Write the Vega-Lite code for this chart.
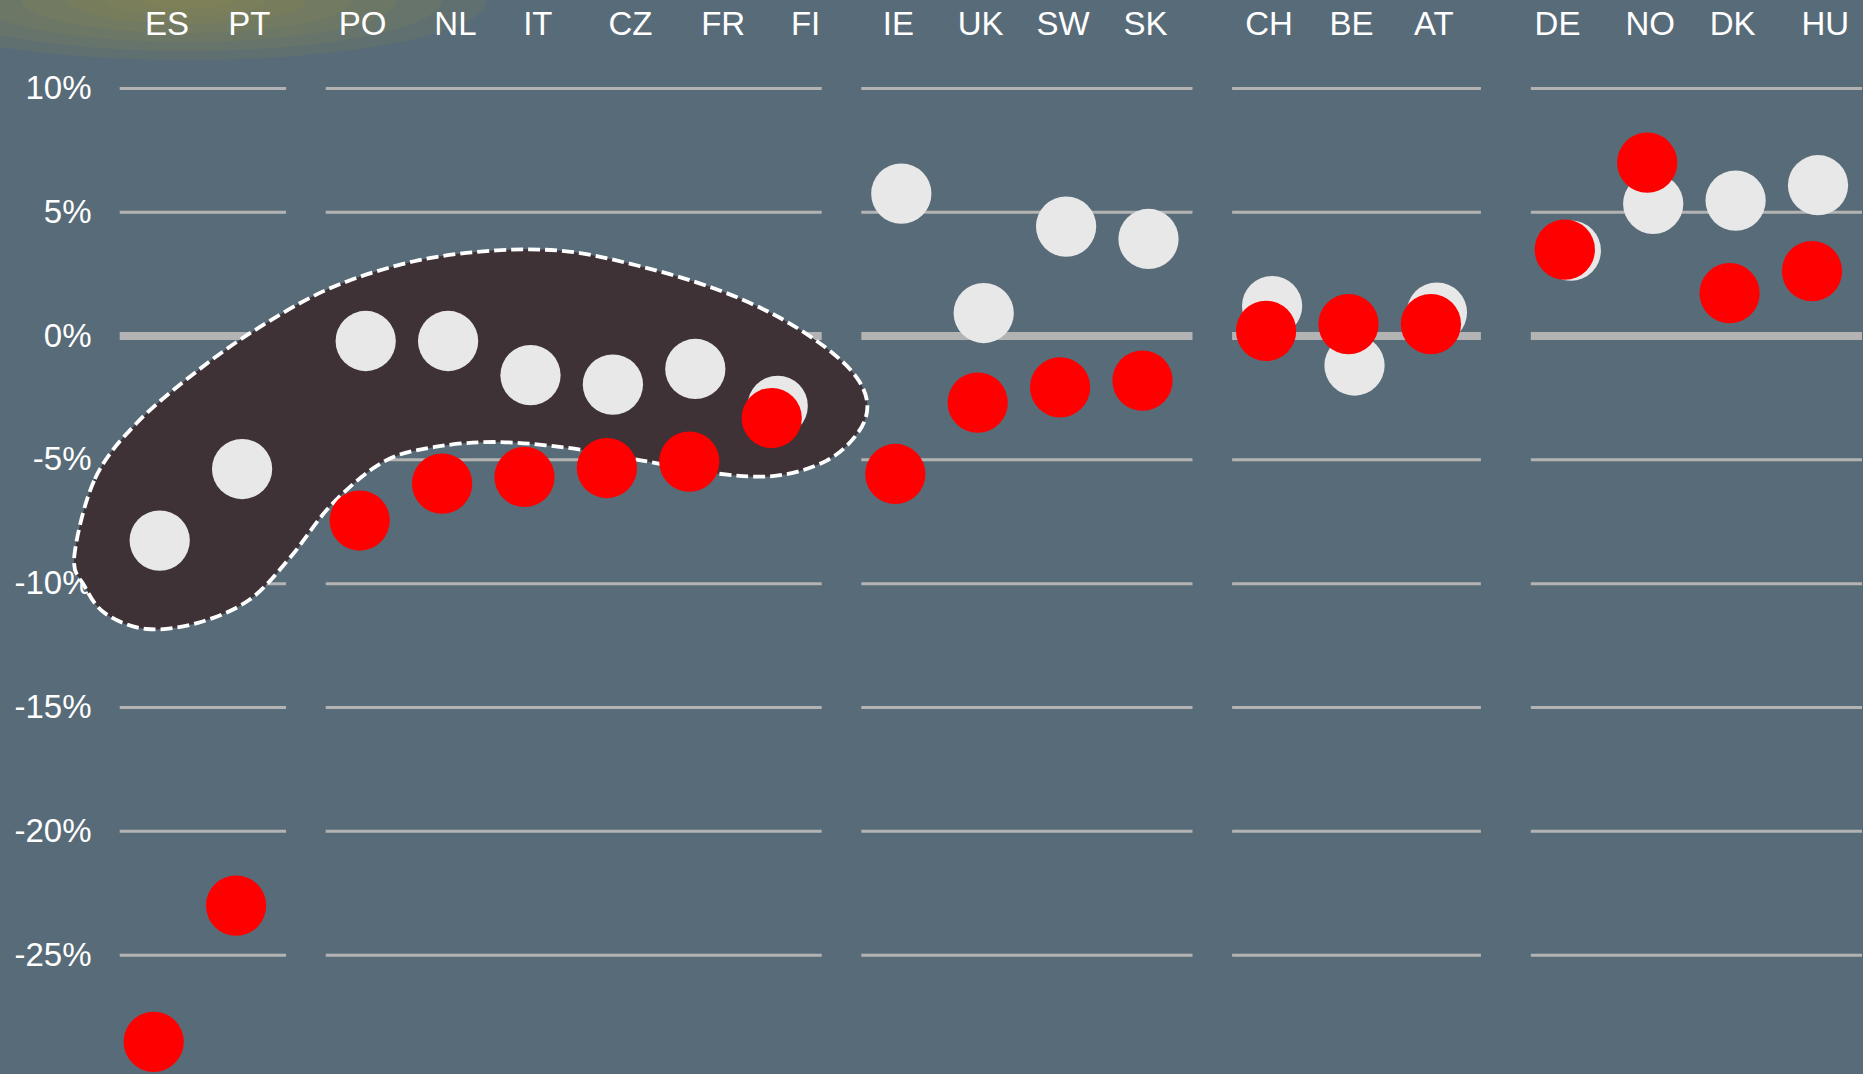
{
  "$schema": "https://vega.github.io/schema/vega-lite/v6.json",
  "width": 1863,
  "height": 1074,
  "autosize": {"type": "none"},
  "padding": 0,
  "config": {
    "background": "#586b78",
    "view": {"stroke": null},
    "font": "Liberation Sans"
  },
  "datasets": {
    "points": [
      {"c": "ES", "s": "A", "v": -8.26}, {"c": "ES", "s": "B", "v": -28.5},
      {"c": "PT", "s": "A", "v": -5.37}, {"c": "PT", "s": "B", "v": -23.0},
      {"c": "PO", "s": "A", "v": -0.2}, {"c": "PO", "s": "B", "v": -7.45},
      {"c": "NL", "s": "A", "v": -0.2}, {"c": "NL", "s": "B", "v": -5.96},
      {"c": "IT", "s": "A", "v": -1.58}, {"c": "IT", "s": "B", "v": -5.69},
      {"c": "CZ", "s": "A", "v": -1.96}, {"c": "CZ", "s": "B", "v": -5.33},
      {"c": "FR", "s": "A", "v": -1.33}, {"c": "FR", "s": "B", "v": -5.07},
      {"c": "FI", "s": "A", "v": -2.82}, {"c": "FI", "s": "B", "v": -3.31},
      {"c": "IE", "s": "A", "v": 5.75}, {"c": "IE", "s": "B", "v": -5.57},
      {"c": "UK", "s": "A", "v": 0.93}, {"c": "UK", "s": "B", "v": -2.69},
      {"c": "SW", "s": "A", "v": 4.42}, {"c": "SW", "s": "B", "v": -2.07},
      {"c": "SK", "s": "A", "v": 3.92}, {"c": "SK", "s": "B", "v": -1.8},
      {"c": "CH", "s": "A", "v": 1.21}, {"c": "CH", "s": "B", "v": 0.21},
      {"c": "BE", "s": "A", "v": -1.19}, {"c": "BE", "s": "B", "v": 0.48},
      {"c": "AT", "s": "A", "v": 0.95}, {"c": "AT", "s": "B", "v": 0.48},
      {"c": "DE", "s": "A", "v": 3.45}, {"c": "DE", "s": "B", "v": 3.49},
      {"c": "NO", "s": "A", "v": 5.34}, {"c": "NO", "s": "B", "v": 7.0},
      {"c": "DK", "s": "A", "v": 5.47}, {"c": "DK", "s": "B", "v": 1.73},
      {"c": "HU", "s": "A", "v": 6.09}, {"c": "HU", "s": "B", "v": 2.62}
    ],
    "groups": [
      {"c": "ES", "c2": "PT", "t": [10, 5, 0, -5, -10, -15, -20, -25]},
      {"c": "PO", "c2": "FI", "t": [10, 5, 0, -5, -10, -15, -20, -25]},
      {"c": "IE", "c2": "SK", "t": [10, 5, 0, -5, -10, -15, -20, -25]},
      {"c": "CH", "c2": "AT", "t": [10, 5, 0, -5, -10, -15, -20, -25]},
      {"c": "DE", "c2": "HU", "t": [10, 5, 0, -5, -10, -15, -20, -25]}
    ],
    "blob": [
      {"i": 0, "c": "_-8", "v": -8.9},
      {"i": 1, "c": "_-6", "v": -5.77},
      {"i": 2, "c": "_-2", "v": -3.54},
      {"i": 3, "c": "_4", "v": -1.39},
      {"i": 4, "c": "_10", "v": 0.36},
      {"i": 5, "c": "_17", "v": 1.96},
      {"i": 6, "c": "_25", "v": 3.02},
      {"i": 7, "c": "_33", "v": 3.46},
      {"i": 8, "c": "_40", "v": 3.41},
      {"i": 9, "c": "_47", "v": 2.81},
      {"i": 10, "c": "_54", "v": 1.94},
      {"i": 11, "c": "FI", "v": 0.85},
      {"i": 12, "c": "_65", "v": -0.48},
      {"i": 13, "c": "_68", "v": -1.7},
      {"i": 14, "c": "_69", "v": -2.85},
      {"i": 15, "c": "_68", "v": -3.95},
      {"i": 16, "c": "_65", "v": -5.04},
      {"i": 17, "c": "FI", "v": -5.65},
      {"i": 18, "c": "_54", "v": -5.53},
      {"i": 19, "c": "_47", "v": -5.02},
      {"i": 20, "c": "_40", "v": -4.52},
      {"i": 21, "c": "_33", "v": -4.28},
      {"i": 22, "c": "_27", "v": -4.48},
      {"i": 23, "c": "_22", "v": -5.08},
      {"i": 24, "c": "_17", "v": -6.8},
      {"i": 25, "c": "_13", "v": -8.92},
      {"i": 26, "c": "_9", "v": -10.65},
      {"i": 27, "c": "_4", "v": -11.58},
      {"i": 28, "c": "_-1", "v": -11.83},
      {"i": 29, "c": "_-5", "v": -11.2},
      {"i": 30, "c": "_-7", "v": -10.1}
    ]
  },
  "encoding": {
    "y": {
      "field": "v",
      "type": "quantitative",
      "scale": {"domain": [-29.8, 13.57], "nice": false, "zero": false},
      "axis": {
        "orient": "left",
        "offset": -91,
        "values": [10, 5, 0, -5, -10, -15, -20, -25],
        "labelExpr": "datum.value + '%'",
        "labelFontSize": 33,
        "labelColor": "#ffffff",
        "labelFont": "Liberation Sans",
        "labelPadding": 0,
        "labelAlign": "right",
        "labelBaseline": "middle",
        "labelFlush": false,
        "labelOverlap": false,
        "ticks": false,
        "tickSize": 0,
        "domain": false,
        "grid": false,
        "title": null
      }
    }
  },
  "resolve": {"scale": {"x": "independent"}},
  "layer": [
    {
      "encoding": {
        "x": {
          "field": "c",
          "type": "nominal",
          "axis": null,
          "scale": {
            "type": "point",
            "padding": 0.436,
            "align": 0.244,
            "domain": ["_-15","_-14","_-13","_-12","_-11","_-10","_-9","_-8","_-7","_-6","_-5","_-4","_-3","_-2","_-1",
              "ES","_1","_2","_3","_4","_5","_6","_7",
              "PT","_9","_10","_11","_12","_13","_14","_15","_16","_17","_18","_19",
              "PO","_21","_22","_23","_24","_25","_26","_27",
              "NL","_29","_30","_31","_32","_33","_34","_35",
              "IT","_37","_38","_39","_40","_41","_42","_43",
              "CZ","_45","_46","_47","_48","_49","_50","_51",
              "FR","_53","_54","_55","_56","_57","_58","_59",
              "FI","_61","_62","_63","_64","_65","_66","_67","_68","_69","_70","_71",
              "IE","_73","_74","_75","_76","_77","_78","_79",
              "UK","_81","_82","_83","_84","_85","_86","_87",
              "SW","_89","_90","_91","_92","_93","_94","_95",
              "SK","_97","_98","_99","_100","_101","_102","_103","_104","_105","_106","_107",
              "CH","_109","_110","_111","_112","_113","_114","_115",
              "BE","_117","_118","_119","_120","_121","_122","_123",
              "AT","_125","_126","_127","_128","_129","_130","_131","_132","_133","_134","_135","_136",
              "DE","_138","_139","_140","_141","_142","_143","_144",
              "NO","_146","_147","_148","_149","_150","_151","_152",
              "DK","_154","_155","_156","_157","_158","_159","_160",
              "HU","_162","_163","_164","_165"]
          }
        }
      },
      "layer": [
        {
          "data": {"name": "points"},
          "transform": [{"filter": "datum.c === 'ES' && datum.s === 'A'"}],
          "encoding": {
            "y": {
              "datum": 13.57,
              "type": "quantitative",
              "scale": {"domain": [-29.8, 13.57], "nice": false, "zero": false},
              "axis": {
                "orient": "left",
                "offset": -91,
                "values": [10, 5, 0, -5, -10, -15, -20, -25],
                "labelExpr": "datum.value + '%'",
                "labelFontSize": 33,
                "labelColor": "#ffffff",
                "labelFont": "Liberation Sans",
                "labelPadding": 0,
                "labelAlign": "right",
                "labelBaseline": "middle",
                "labelFlush": false,
                "labelOverlap": false,
                "ticks": false,
                "tickSize": 0,
                "domain": false,
                "grid": false,
                "title": null
              }
            }
          },
          "layer": [
            {"mark": {"type": "point", "shape": "M-1,0A1,0.2,0,1,1,1,0A1,0.2,0,1,1,-1,0Z", "size": 360000, "filled": true, "color": "#968a48", "opacity": 0.15, "strokeWidth": 0, "xOffset": 30}},
            {"mark": {"type": "point", "shape": "M-1,0A1,0.2,0,1,1,1,0A1,0.2,0,1,1,-1,0Z", "size": 260100, "filled": true, "color": "#968a48", "opacity": 0.15, "strokeWidth": 0, "xOffset": 30}},
            {"mark": {"type": "point", "shape": "M-1,0A1,0.2,0,1,1,1,0A1,0.2,0,1,1,-1,0Z", "size": 176400, "filled": true, "color": "#968a48", "opacity": 0.15, "strokeWidth": 0, "xOffset": 30}},
            {"mark": {"type": "point", "shape": "M-1,0A1,0.2,0,1,1,1,0A1,0.2,0,1,1,-1,0Z", "size": 108900, "filled": true, "color": "#968a48", "opacity": 0.15, "strokeWidth": 0, "xOffset": 30}},
            {"mark": {"type": "point", "shape": "M-1,0A1,0.2,0,1,1,1,0A1,0.2,0,1,1,-1,0Z", "size": 57600, "filled": true, "color": "#968a48", "opacity": 0.15, "strokeWidth": 0, "xOffset": 30}},
            {"mark": {"type": "point", "shape": "M-1,0A1,0.2,0,1,1,1,0A1,0.2,0,1,1,-1,0Z", "size": 25600, "filled": true, "color": "#968a48", "opacity": 0.15, "strokeWidth": 0, "xOffset": 30}},
            {"mark": {"type": "point", "shape": "M-1,0A1,0.2,0,1,1,1,0A1,0.2,0,1,1,-1,0Z", "size": 8100, "filled": true, "color": "#968a48", "opacity": 0.15, "strokeWidth": 0, "xOffset": 30}}
          ]
        },
        {
          "data": {"name": "groups"},
          "transform": [{"flatten": ["t"], "as": ["v"]}],
          "mark": {"type": "rule", "color": "#b3b3b3", "xOffset": -37, "x2Offset": 47},
          "encoding": {
            "x2": {"field": "c2"},
            "strokeWidth": {"condition": {"test": "datum.v === 0", "value": 8}, "value": 3}
          }
        },
        {
          "data": {"name": "blob"},
          "mark": {
            "type": "line",
            "interpolate": "cardinal-closed",
            "fill": "#3e3237",
            "stroke": "#ffffff",
            "strokeWidth": 3.8,
            "strokeDash": [12, 5]
          },
          "encoding": {
            "order": {"field": "i", "type": "quantitative"}
          }
        },
        {
          "data": {"name": "points"},
          "transform": [{"filter": "datum.s === 'A'"}],
          "mark": {"type": "circle", "size": 3632, "opacity": 1, "color": "#e8e8e8", "xOffset": 3}
        },
        {
          "data": {"name": "points"},
          "transform": [{"filter": "datum.s === 'B'"}],
          "mark": {"type": "circle", "size": 3632, "opacity": 1, "color": "#ff0000", "xOffset": -3}
        }
      ]
    },
    {
      "data": {"name": "points"},
      "transform": [{"filter": "datum.s === 'A'"}],
      "mark": {"type": "text", "fontSize": 33, "color": "#ffffff", "font": "Liberation Sans", "align": "center", "baseline": "middle"},
      "encoding": {
        "text": {"field": "c"},
        "y": {
          "datum": 12.56,
          "type": "quantitative",
          "scale": {"domain": [-29.8, 13.57], "nice": false, "zero": false},
          "axis": {
            "orient": "left",
            "offset": -91,
            "values": [10, 5, 0, -5, -10, -15, -20, -25],
            "labelExpr": "datum.value + '%'",
            "labelFontSize": 33,
            "labelColor": "#ffffff",
            "labelFont": "Liberation Sans",
            "labelPadding": 0,
            "labelAlign": "right",
            "labelBaseline": "middle",
            "labelFlush": false,
            "labelOverlap": false,
            "ticks": false,
            "tickSize": 0,
            "domain": false,
            "grid": false,
            "title": null
          }
        },
        "x": {
          "field": "c",
          "type": "nominal",
          "axis": null,
          "scale": {
            "type": "point",
            "padding": 0.436,
            "align": 0.244,
            "domain": ["_-15","_-14","_-13","_-12","_-11","_-10","_-9","_-8","_-7","_-6","_-5","_-4","_-3","_-2","_-1",
              "_0","ES","_2","_3","_4","_5","_6","_7","_8",
              "PT","_10","_11","_12","_13","_14","_15","_16","_17","_18","_19",
              "PO","_21","_22","_23","_24","_25","_26","_27","_28",
              "NL","_30","_31","_32","_33","_34","_35","_36",
              "IT","_38","_39","_40","_41","_42","_43","_44","_45",
              "CZ","_47","_48","_49","_50","_51","_52","_53","_54",
              "FR","_56","_57","_58","_59","_60","_61","_62",
              "FI","_64","_65","_66","_67","_68","_69","_70","_71",
              "IE","_73","_74","_75","_76","_77","_78","_79",
              "UK","_81","_82","_83","_84","_85","_86","_87",
              "SW","_89","_90","_91","_92","_93","_94","_95",
              "SK","_97","_98","_99","_100","_101","_102","_103","_104","_105","_106","_107",
              "CH","_109","_110","_111","_112","_113","_114","_115",
              "BE","_117","_118","_119","_120","_121","_122","_123",
              "AT","_125","_126","_127","_128","_129","_130","_131","_132","_133","_134","_135",
              "DE","_137","_138","_139","_140","_141","_142","_143","_144",
              "NO","_146","_147","_148","_149","_150","_151","_152",
              "DK","_154","_155","_156","_157","_158","_159","_160","_161",
              "HU","_163","_164","_165"]
          }
        }
      }
    }
  ]
}
